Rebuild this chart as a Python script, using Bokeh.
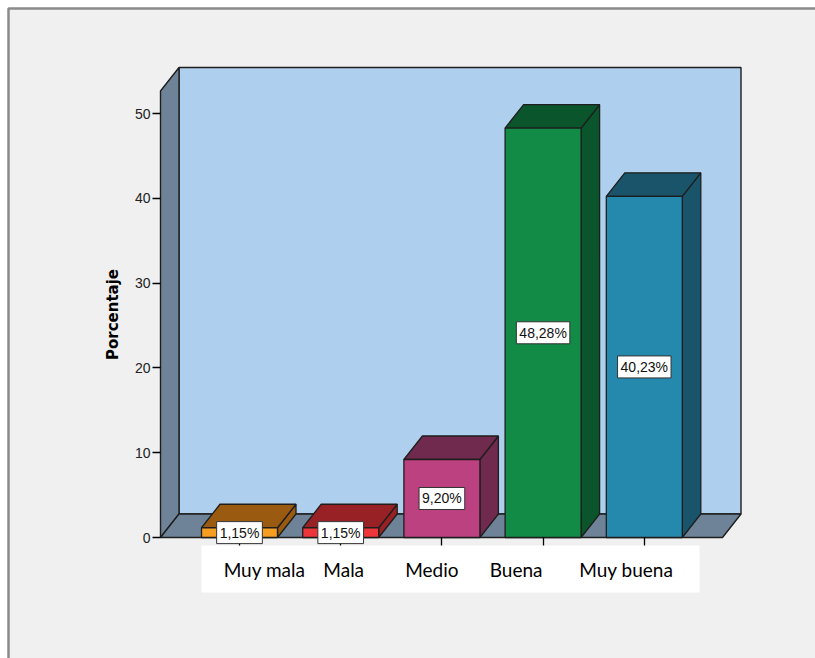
from bokeh.plotting import figure
from bokeh.models import LinearAxis, FixedTicker, Range1d
from bokeh.core.properties import value
from bokeh.embed import file_html
from bokeh.resources import INLINE

# ---------------- data ----------------
categories = ["Muy mala", "Mala", "Medio", "Buena", "Muy buena"]
percentages = [1.15, 1.15, 9.20, 48.28, 40.23]
value_labels = ["1,15%", "1,15%", "9,20%", "48,28%", "40,23%"]
y_ticks = [0, 10, 20, 30, 40, 50]
y_title = "Porcentaje"

front_colors = ["#f59e22", "#ec363b", "#bc4180", "#118b46", "#2489ad"]
shade_colors = ["#9a5a10", "#982125", "#6f2a4d", "#0a552b", "#19546a"]

# ---------------- geometry (pixel scale of the reference) ----------------
W, H = 815, 658
PX_PER_CAT = 101.2      # pixels between category centres
PX_PER_PCT = 8.48       # pixels per percentage point
CAT0_PX = 239           # pixel x of first category
ZERO_PX = 537           # pixel y of value 0

x_start = -CAT0_PX / PX_PER_CAT
x_end = (W - CAT0_PX) / PX_PER_CAT
y_end = ZERO_PX / PX_PER_PCT
y_start = -(H - ZERO_PX) / PX_PER_PCT


def sx(px):
    return x_start + px / PX_PER_CAT


def sy(py):
    return y_end - py / PX_PER_PCT


DX = 18.5 / PX_PER_CAT          # depth offset (x)
DY = 23.5 / PX_PER_PCT          # depth offset (y)
BW = 0.751 / 2                  # half bar width
XL = sx(160)                    # front-left edge of the box
XR = sx(722)                    # front-right edge of the box
TOP = sy(67) - DY               # top of the walls (front plane)

p = figure(width=W, height=H, x_range=Range1d(x_start, x_end),
           y_range=Range1d(y_start, y_end), output_backend="svg",
           toolbar_location=None, min_border=0,
           x_axis_type=None, y_axis_type=None)
p.outline_line_color = None
p.grid.visible = False
p.background_fill_color = "white"
p.border_fill_color = "white"

EDGE = "#1e1e1e"

# panel background with grey frame line
p.quad(left=[sx(8)], right=[x_end + 1], top=[sy(8)], bottom=[y_start - 5],
       fill_color="#f0f0f0", line_color="#8a8a8a", line_width=2.5)

# back wall
p.patch([XL + DX, XR + DX, XR + DX, XL + DX], [DY, DY, TOP + DY, TOP + DY],
        fill_color="#aecfed", line_color=EDGE, line_width=1.4)
# left wall
p.patch([XL, XL + DX, XL + DX, XL], [0, DY, TOP + DY, TOP],
        fill_color="#6e8397", line_color=EDGE, line_width=1.4)
# floor
p.patch([XL, XR, XR + DX, XL + DX], [0, 0, DY, DY],
        fill_color="#6e8397", line_color=EDGE, line_width=1.4)

# white box behind category labels
p.quad(left=[-BW], right=[sx(699)], top=[sy(545)], bottom=[sy(592)],
       fill_color="white", line_color=None)

# 3D bars
for i, v in enumerate(percentages):
    c = i
    p.patch([c + BW, c + BW + DX, c + BW + DX, c + BW], [0, DY, v + DY, v],
            fill_color=shade_colors[i], line_color=EDGE, line_width=1.3)
    p.patch([c - BW, c + BW, c + BW + DX, c - BW + DX], [v, v, v + DY, v + DY],
            fill_color=shade_colors[i], line_color=EDGE, line_width=1.3)
    p.quad(left=[c - BW], right=[c + BW], bottom=[0], top=[v],
           fill_color=front_colors[i], line_color=EDGE, line_width=1.3)

# value labels at half height
r = p.text(x=list(range(len(categories))), y=[v / 2 for v in percentages],
           text=value_labels, text_align="center", text_baseline="middle",
           text_font=value("Liberation Sans"), text_font_size="14px",
           text_color="#111111", background_fill_color="white",
           border_line_color="#333333", border_line_width=1, padding=3)
r.level = "overlay"

# category labels (pasted-over style, slightly shifted)
label_dx = [25, 3, -10, -27, -18]
p.text(x=list(range(len(categories))), y=[sy(569)] * len(categories),
       text=categories, x_offset=label_dx, text_align="center",
       text_baseline="middle", text_font=value("Lato"),
       text_font_size="19px", text_color="black")

# y axis at the front-left edge
yax = LinearAxis(fixed_location=XL, ticker=FixedTicker(ticks=y_ticks),
                 axis_label=y_title, bounds=(0, TOP))
yax.axis_line_color = None
yax.major_tick_in = 0
yax.major_tick_out = 8
yax.major_tick_line_color = "black"
yax.major_tick_line_width = 1.3
yax.minor_tick_line_color = None
yax.major_label_standoff = 2
yax.major_label_text_font = "Liberation Sans"
yax.major_label_text_font_size = "14px"
yax.major_label_text_color = "#222222"
yax.axis_label_text_font = "DejaVu Sans"
yax.axis_label_text_font_size = "15px"
yax.axis_label_text_font_style = "bold"
yax.axis_label_text_color = "black"
yax.axis_label_standoff = 10
p.add_layout(yax, "left")

# x axis ticks at the front floor edge
xax = LinearAxis(fixed_location=0,
                 ticker=FixedTicker(ticks=list(range(len(categories)))))
xax.major_label_overrides = {i: "" for i in range(len(categories))}
xax.axis_line_color = None
xax.major_tick_in = 0
xax.major_tick_out = 8
xax.major_tick_line_color = "black"
xax.major_tick_line_width = 1.3
xax.minor_tick_line_color = None
p.add_layout(xax, "below")

open("out.html", "w").write(file_html(p, INLINE))
